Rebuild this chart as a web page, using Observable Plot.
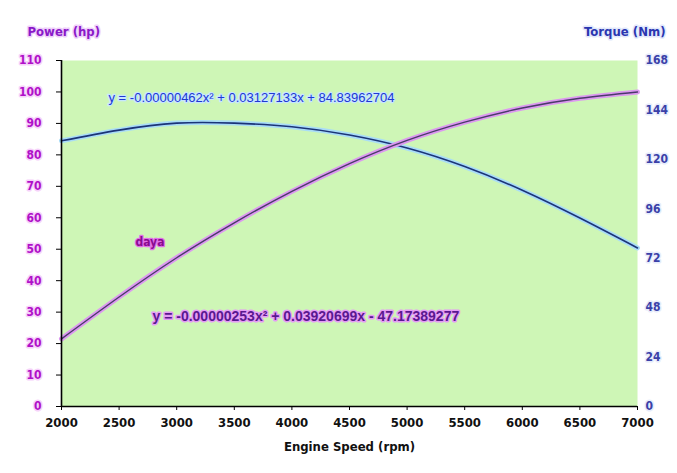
<!DOCTYPE html>
<html>
<head>
<meta charset="utf-8">
<script src="https://cdn.jsdelivr.net/npm/d3@7"></script>
<script src="https://cdn.jsdelivr.net/npm/@observablehq/plot@0.6"></script>
<style>
  html, body { margin: 0; padding: 0; background: #ffffff; }
  #chart { width: 677px; height: 473px; }
</style>
</head>
<body>
<div id="chart"></div>
<script>
// Engine speed (rpm)
const rpm = [2000, 2500, 3000, 3500, 4000, 4500, 5000, 5500, 6000, 6500, 7000];
// Power (hp) — left axis
const power = [21.5, 34.8, 47.3, 58.4, 68.4, 77.2, 84.6, 90.4, 94.9, 98.0, 100];
// Torque (Nm) — right axis
const torque = [129, 134.2, 137.6, 137.6, 135.8, 131.8, 125.5, 116.5, 105, 91.5, 77];

const xTicks = [2000, 2500, 3000, 3500, 4000, 4500, 5000, 5500, 6000, 6500, 7000];
const powerTicks = [0, 10, 20, 30, 40, 50, 60, 70, 80, 90, 100, 110];
const torqueTicks = [0, 24, 48, 72, 96, 120, 144, 168];

const powerLabel = "Power (hp)";
const torqueLabel = "Torque (Nm)";
const xLabel = "Engine Speed (rpm)";
const torqueEq = "y = -0.00000462x² + 0.03127133x + 84.83962704";
const powerEq = "y = -0.00000253x² + 0.03920699x - 47.17389277";
const powerName = "daya";

const powerMax = 110, torqueMax = 168;
const toPow = t => t * powerMax / torqueMax;

const data = rpm.map((r, i) => ({rpm: r, power: power[i], torque: torque[i]}));

const font = "'Liberation Sans Narrow', 'DejaVu Sans Condensed', 'Liberation Sans', sans-serif";

const chart = Plot.plot({
  width: 677,
  height: 473,
  marginLeft: 61,
  marginRight: 40,
  marginTop: 60,
  marginBottom: 67,
  style: {fontFamily: font, background: "#ffffff", overflow: "visible"},
  x: {domain: [2000, 7000], axis: null, label: null},
  y: {domain: [0, powerMax], axis: null, label: null},
  marks: [
    Plot.frame({fill: "#cef6b6", stroke: null}),
    // torque line (blue) with glow
    Plot.line(data, {x: "rpm", y: d => toPow(d.torque), curve: "natural", stroke: "#a9dcf7", strokeWidth: 5}),
    Plot.line(data, {x: "rpm", y: d => toPow(d.torque), curve: "natural", stroke: "#1b3478", strokeWidth: 1.6}),
    // power line (purple) with glow
    Plot.line(data, {x: "rpm", y: "power", curve: "natural", stroke: "#dc98f0", strokeWidth: 5}),
    Plot.line(data, {x: "rpm", y: "power", curve: "natural", stroke: "#4a3a6a", strokeWidth: 1.4}),
    // axes
    Plot.ruleX([2000], {stroke: "#000", strokeWidth: 1.6}),
    Plot.ruleY([0], {stroke: "#000", strokeWidth: 1.6}),
    Plot.axisY({ticks: powerTicks, tickSize: 5, tickFormat: () => "", stroke: "#000", label: null}),
    Plot.axisX({ticks: xTicks, tickSize: 4, tickFormat: () => "", stroke: "#000", label: null}),
    // left tick labels
    Plot.text(powerTicks, {x: 2000, y: d => d, text: d => String(d), textAnchor: "end", dx: -20, fontSize: 12, fontWeight: "bold",
      fill: "#b010c8", stroke: "#f6d2fa", strokeWidth: 3, paintOrder: "stroke"}),
    // right tick labels
    Plot.text(torqueTicks, {x: 7000, y: d => toPow(d), text: d => String(d), textAnchor: "start", dx: 8, fontSize: 12, fontWeight: "bold",
      fill: "#3a40a8", stroke: "#e6ecfb", strokeWidth: 3, paintOrder: "stroke"}),
    // x tick labels
    Plot.text(xTicks, {x: d => d, y: 0, text: d => String(d), dy: 16, fontSize: 13, fontWeight: "bold", fill: "#111"}),
    // axis titles
    Plot.text([powerLabel], {frameAnchor: "top-left", dx: -34, dy: -34, textAnchor: "start", fontSize: 13, fontWeight: "bold",
      fill: "#8a18c8", stroke: "#efd0fa", strokeWidth: 3, paintOrder: "stroke"}),
    Plot.text([torqueLabel], {frameAnchor: "top-right", dx: 28, dy: -34, textAnchor: "end", fontSize: 13, fontWeight: "bold",
      fill: "#2a36b0", stroke: "#e2e8fb", strokeWidth: 3, paintOrder: "stroke"}),
    Plot.text([xLabel], {frameAnchor: "bottom", dy: 44, fontSize: 13, fontWeight: "bold", fill: "#111"}),
    // annotations
    Plot.text([torqueEq], {x: 2408, y: 98.2, textAnchor: "start", fontSize: 13, fill: "#2038d0",
      stroke: "#c6e6ff", strokeWidth: 2.5, paintOrder: "stroke", fontFamily: "'Liberation Sans', sans-serif"}),
    Plot.text([powerEq], {x: 2790, y: 28.6, textAnchor: "start", fontSize: 14, fontWeight: "bold", fill: "#5a1890",
      stroke: "#e49cf4", strokeWidth: 3, paintOrder: "stroke", fontFamily: "'Liberation Sans', sans-serif"}),
    Plot.text([powerName], {x: 2642, y: 52.1, textAnchor: "start", fontSize: 12, fontWeight: "bold", fill: "#8a0a90",
      stroke: "#e070e8", strokeWidth: 2.5, paintOrder: "stroke"})
  ]
});
document.getElementById("chart").appendChild(chart);
</script>
</body>
</html>
